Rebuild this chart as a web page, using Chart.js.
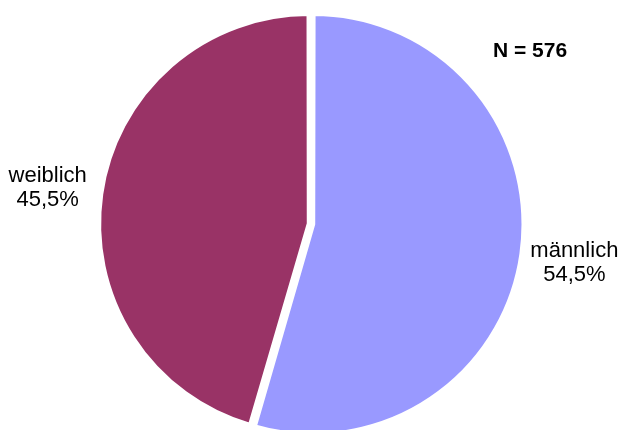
<!DOCTYPE html>
<html>
<head>
<meta charset="utf-8">
<script src="https://cdn.jsdelivr.net/npm/chart.js@4.4.1/dist/chart.umd.min.js"></script>
<style>
  html, body { margin: 0; padding: 0; background: #fff; }
</style>
</head>
<body>
<canvas id="geschlecht" width="624" height="430"></canvas>
<script>
// Geschlechterverteilung der Befragten
const categories = ['männlich', 'weiblich'];
const shares = [54.5, 45.5];
const sliceColors = ['#9999FF', '#993366'];
const sampleLabel = 'N = 576';

const fmtPct = v => v.toFixed(1).replace('.', ',') + '%';
const FONT = '"Liberation Sans", Arial, Helvetica, sans-serif';

// Beschriftung außerhalb der Segmente + Stichprobengröße
const sliceLabels = {
    id: 'sliceLabels',
    afterDatasetsDraw(chart) {
        const { ctx } = chart;
        const meta = chart.getDatasetMeta(0);
        ctx.save();
        ctx.font = '22px ' + FONT;
        ctx.fillStyle = '#000';
        ctx.textAlign = 'center';
        ctx.textBaseline = 'middle';
        meta.data.forEach((arc, i) => {
            const { x, y, startAngle, endAngle, outerRadius } =
                arc.getProps(['x', 'y', 'startAngle', 'endAngle', 'outerRadius'], true);
            const mid = (startAngle + endAngle) / 2;
            const r = outerRadius + 58;
            const lx = x + Math.cos(mid) * r;
            const ly = y + Math.sin(mid) * r + 1;
            ctx.fillText(categories[i], lx, ly - 12);
            ctx.fillText(fmtPct(shares[i]), lx, ly + 12);
        });
        ctx.font = 'bold 21px ' + FONT;
        ctx.textBaseline = 'alphabetic';
        ctx.fillText(sampleLabel, 530, 57);
        ctx.restore();
    }
};

new Chart(document.getElementById('geschlecht'), {
    type: 'pie',
    data: {
        labels: categories,
        datasets: [{
            data: shares,
            backgroundColor: sliceColors,
            borderColor: '#fff',
            borderWidth: 4,
            offset: 9
        }]
    },
    options: {
        responsive: false,
        animation: false,
        radius: 208,
        layout: { padding: { top: 18, left: 0, right: 2, bottom: 0 } },
        plugins: { legend: { display: false }, tooltip: { enabled: false } }
    },
    plugins: [sliceLabels]
});
</script>
</body>
</html>
